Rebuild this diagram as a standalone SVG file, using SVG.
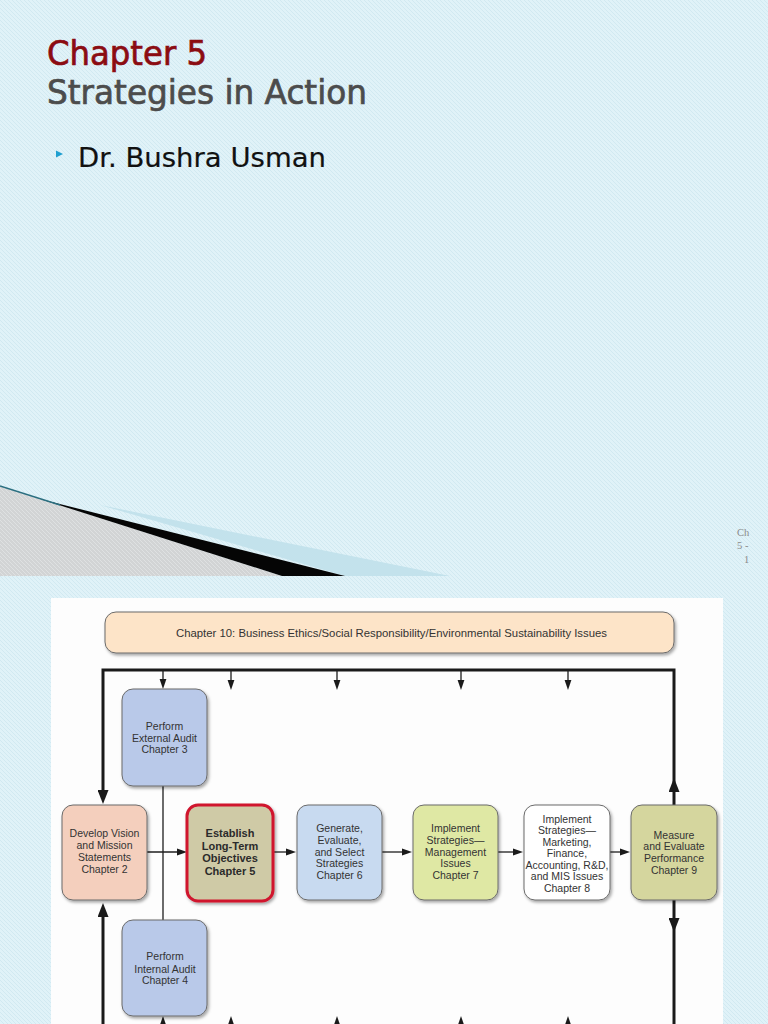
<svg xmlns="http://www.w3.org/2000/svg" width="768" height="1024" viewBox="0 0 768 1024">
<defs>
  <pattern id="bgtex" width="4" height="4" patternUnits="userSpaceOnUse">
    <rect width="4" height="4" fill="#e0f2f8"/>
    <path d="M-1,-1 L5,5 M-1,3 L1,5 M3,-1 L5,1" stroke="#d1e9f1" stroke-width="1"/>
  </pattern>
  <pattern id="graytex" width="4" height="4" patternUnits="userSpaceOnUse">
    <rect width="4" height="4" fill="#d2d4d5"/>
    <path d="M-1,-1 L5,5 M-1,3 L1,5 M3,-1 L5,1" stroke="#dfe1e2" stroke-width="1"/>
  </pattern>
  <filter id="shadow" x="-20%" y="-20%" width="140%" height="140%">
    <feDropShadow dx="1.5" dy="2" stdDeviation="1.6" flood-color="#000" flood-opacity="0.35"/>
  </filter>
  <marker id="sm" viewBox="0 0 10 8" markerWidth="10" markerHeight="8" refX="3" refY="4" orient="auto" markerUnits="userSpaceOnUse">
    <path d="M0,0.6 L10,4 L0,7.4 z" fill="#1a1a1a"/>
  </marker>
  <marker id="lg" viewBox="0 0 14 11" markerWidth="14" markerHeight="11" refX="4" refY="5.5" orient="auto" markerUnits="userSpaceOnUse">
    <path d="M0,0 L14,5.5 L0,11 z" fill="#1a1a1a"/>
  </marker>
  <style>
    .box { stroke: #6b6b6b; stroke-width: 1; filter: url(#shadow); }
    .lbl { font-family: "Liberation Sans", Arial, sans-serif; font-size: 10.5px; fill: #333; text-anchor: middle; }
    .bold { font-weight: bold; font-size: 11px; fill: #2b2b2b; }
    .thin { stroke: #1e1e1e; stroke-width: 1.3; fill: none; }
    .thick { stroke: #1a1a1a; stroke-width: 3; fill: none; }
    .title { font-family: "DejaVu Sans", Verdana, sans-serif; font-size: 33px; stroke-width: 0.7px; }
  </style>
</defs>

<!-- background -->
<rect width="768" height="1024" fill="url(#bgtex)"/>
<!-- slide decoration -->
<polygon points="0,486 282,576 0,576" fill="url(#graytex)"/>
<polygon points="100,505 450,576 345,576" fill="#c3e2ec"/>
<polygon points="40,499 345,576 282,576" fill="#050505"/>
<path d="M0,486 L60,505" stroke="#2b6f80" stroke-width="1.5"/>

<!-- title -->
<text class="title" x="47" y="65" fill="#8b0c12" stroke="#8b0c12" textLength="160" lengthAdjust="spacingAndGlyphs">Chapter 5</text>
<text class="title" x="47" y="104" fill="#4c4c4c" stroke="#4c4c4c" textLength="320" lengthAdjust="spacingAndGlyphs">Strategies in Action</text>
<polygon points="56,150.5 63,154 56,157.5" fill="#1f9fd0"/>
<text x="78" y="167" font-family="'DejaVu Sans', Verdana, sans-serif" font-size="26" fill="#111" stroke="#111" stroke-width="0.2" textLength="248" lengthAdjust="spacingAndGlyphs">Dr. Bushra Usman</text>

<!-- slide number -->
<g font-family="'Liberation Serif', 'Times New Roman', serif" font-size="10.5" fill="#8a8a8a">
  <text x="737" y="536">Ch</text>
  <text x="737" y="549">5 -</text>
  <text x="744" y="563">1</text>
</g>

<!-- diagram panel -->
<rect x="51" y="598" width="672" height="426" fill="#fdfdfd"/>

<!-- connectors -->
<g id="connectors">
  <!-- frame -->
  <path class="thick" d="M674,792 L674,670 L103,670 L103,794" marker-end="url(#lg)"/>
  <path class="thick" d="M674,805 L674,788" marker-end="url(#lg)"/>
  <path class="thick" d="M674,900 L674,922" marker-end="url(#lg)"/>
  <path class="thick" d="M674,918 L674,1030"/>
  <path class="thick" d="M103,1030 L103,913" marker-end="url(#lg)"/>
  <!-- top small arrows -->
  <path class="thin" d="M163,670 L163,682" marker-end="url(#sm)"/>
  <path class="thin" d="M231,670 L231,683" marker-end="url(#sm)"/>
  <path class="thin" d="M337,670 L337,683" marker-end="url(#sm)"/>
  <path class="thin" d="M461,670 L461,683" marker-end="url(#sm)"/>
  <path class="thin" d="M568,670 L568,683" marker-end="url(#sm)"/>
  <!-- bottom small arrows -->
  <path class="thin" d="M163,1030 L163,1023" marker-end="url(#sm)"/>
  <path class="thin" d="M231,1030 L231,1023" marker-end="url(#sm)"/>
  <path class="thin" d="M337,1030 L337,1023" marker-end="url(#sm)"/>
  <path class="thin" d="M461,1030 L461,1023" marker-end="url(#sm)"/>
  <path class="thin" d="M568,1030 L568,1023" marker-end="url(#sm)"/>
  <!-- audit link -->
  <path class="thin" d="M163,786 L163,920" stroke-width="1"/>
  <!-- horizontal flow -->
  <path class="thin" d="M147,852 L180,852" marker-end="url(#sm)"/>
  <path class="thin" d="M273,852 L289,852" marker-end="url(#sm)"/>
  <path class="thin" d="M382,852 L405,852" marker-end="url(#sm)"/>
  <path class="thin" d="M498,852 L516,852" marker-end="url(#sm)"/>
  <path class="thin" d="M610,852 L623,852" marker-end="url(#sm)"/>
</g>

<!-- nodes -->
<g id="ch10">
  <rect class="box" x="105" y="612" width="569" height="41" rx="11" fill="#fde4c8"/>
  <text x="176" y="636.5" font-family="'Liberation Sans', Arial, sans-serif" font-size="11" fill="#333" textLength="431" lengthAdjust="spacingAndGlyphs">Chapter 10: Business Ethics/Social Responsibility/Environmental Sustainability Issues</text>
</g>

<g id="external">
  <rect class="box" x="122" y="689" width="85" height="97" rx="11" fill="#b9c9e9"/>
  <text class="lbl" x="164.5" y="729.5">Perform</text>
  <text class="lbl" x="164.5" y="741.5">External Audit</text>
  <text class="lbl" x="164.5" y="753">Chapter 3</text>
</g>

<g id="vision">
  <rect class="box" x="62" y="805" width="85" height="95" rx="11" fill="#f4cfbd"/>
  <text class="lbl" x="104.5" y="837">Develop Vision</text>
  <text class="lbl" x="104.5" y="849">and Mission</text>
  <text class="lbl" x="104.5" y="861">Statements</text>
  <text class="lbl" x="104.5" y="873">Chapter 2</text>
</g>

<g id="objectives">
  <rect x="187" y="805" width="86" height="96" rx="11" fill="#cfcaa6" stroke="#d0142e" stroke-width="3" filter="url(#shadow)"/>
  <text class="lbl bold" x="230" y="836.5">Establish</text>
  <text class="lbl bold" x="230" y="849.5">Long-Term</text>
  <text class="lbl bold" x="230" y="862">Objectives</text>
  <text class="lbl bold" x="230" y="875">Chapter 5</text>
</g>

<g id="generate">
  <rect class="box" x="297" y="805" width="85" height="95" rx="11" fill="#c8daf0"/>
  <text class="lbl" x="339.5" y="832">Generate,</text>
  <text class="lbl" x="339.5" y="844">Evaluate,</text>
  <text class="lbl" x="339.5" y="855.5">and Select</text>
  <text class="lbl" x="339.5" y="867">Strategies</text>
  <text class="lbl" x="339.5" y="878.5">Chapter 6</text>
</g>

<g id="management">
  <rect class="box" x="413" y="805" width="85" height="95" rx="11" fill="#dfe8a4"/>
  <text class="lbl" x="455.5" y="832">Implement</text>
  <text class="lbl" x="455.5" y="844">Strategies—</text>
  <text class="lbl" x="455.5" y="855.5">Management</text>
  <text class="lbl" x="455.5" y="867">Issues</text>
  <text class="lbl" x="455.5" y="878.5">Chapter 7</text>
</g>

<g id="marketing">
  <rect class="box" x="524" y="805" width="86" height="95" rx="11" fill="#ffffff"/>
  <text class="lbl" x="567" y="822.5">Implement</text>
  <text class="lbl" x="567" y="834">Strategies—</text>
  <text class="lbl" x="567" y="845.5">Marketing,</text>
  <text class="lbl" x="567" y="857">Finance,</text>
  <text class="lbl" x="567" y="868.5">Accounting, R&amp;D,</text>
  <text class="lbl" x="567" y="880">and MIS Issues</text>
  <text class="lbl" x="567" y="891.5">Chapter 8</text>
</g>

<g id="measure">
  <rect class="box" x="631" y="805" width="86" height="95" rx="11" fill="#d5d69e"/>
  <text class="lbl" x="674" y="838.5">Measure</text>
  <text class="lbl" x="674" y="850">and Evaluate</text>
  <text class="lbl" x="674" y="861.5">Performance</text>
  <text class="lbl" x="674" y="873.5">Chapter 9</text>
</g>

<g id="internal">
  <rect class="box" x="122" y="920" width="85" height="96" rx="11" fill="#b9c9e9"/>
  <text class="lbl" x="165" y="960">Perform</text>
  <text class="lbl" x="165" y="972.5">Internal Audit</text>
  <text class="lbl" x="165" y="984">Chapter 4</text>
</g>
</svg>
